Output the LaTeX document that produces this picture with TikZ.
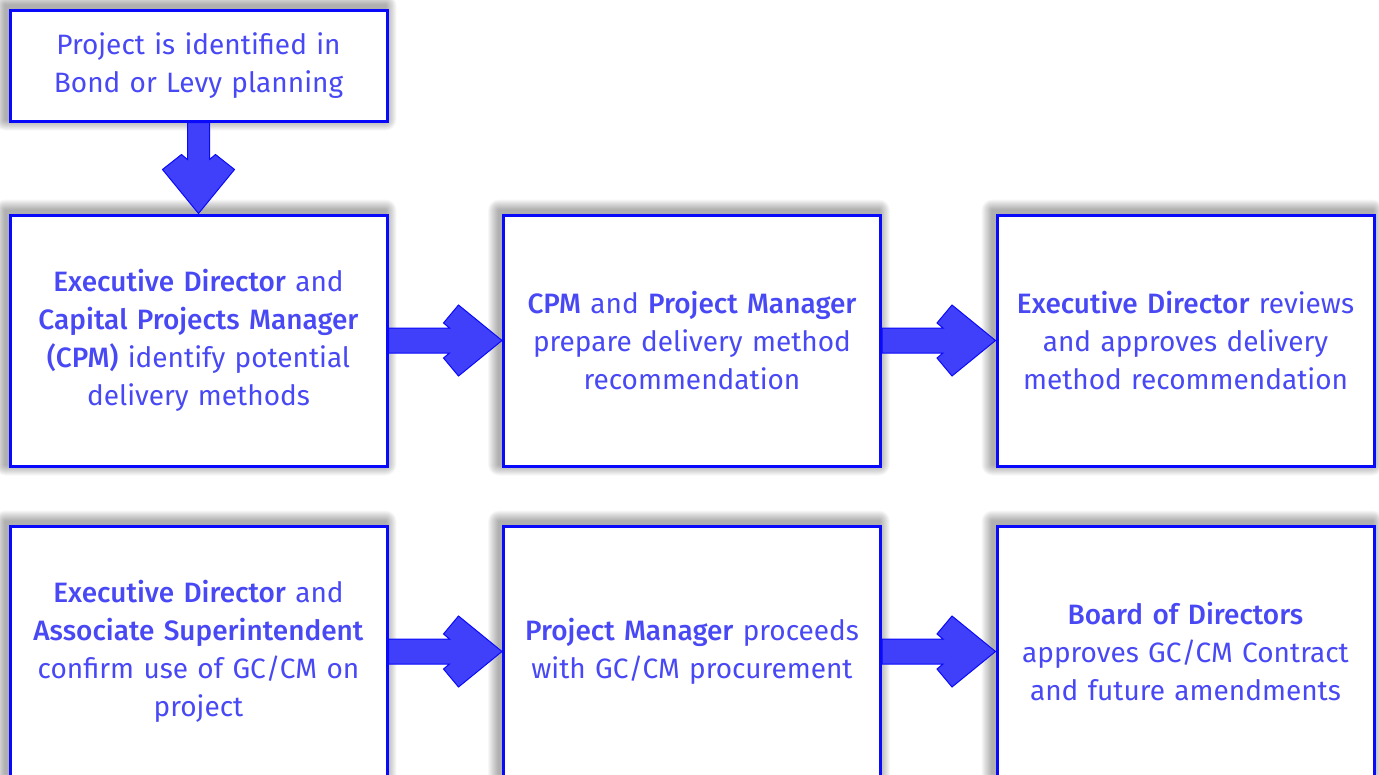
\documentclass[tikz,border=0pt]{standalone}
\usepackage{fontspec}
\setmainfont{Fira Sans}[BoldFont={Fira Sans Medium}]
\usetikzlibrary{calc,backgrounds}
\definecolor{boxblue}{RGB}{10,10,250}
\definecolor{textblue}{RGB}{72,72,245}
\definecolor{arrowfill}{RGB}{64,64,250}
\tikzset{
  stepbox/.style={draw=boxblue, line width=3pt, fill=white, rectangle,
    minimum width=377pt, minimum height=251pt, inner sep=0pt,
    text=textblue, align=center, text width=370pt,
    font=\fontsize{28}{38}\selectfont},
  shadowlayer/.style={fill=black, opacity=0.032, rounded corners=#1},
  flowarrow/.style={draw=boxblue, line width=1pt, fill=arrowfill, line join=miter}
}
\newcommand{\harrow}[2]{%
  \draw[flowarrow] ($(#1.east)+(0,-12.5)$) -- ($(#1.east)+(61,-12.5)$) -- ($(#1.east)+(55,-17.5)$)
    -- ($(#1.east)+(70,-35.5)$) -- (#2.west) -- ($(#1.east)+(70,35.5)$) -- ($(#1.east)+(55,17.5)$)
    -- ($(#1.east)+(61,12.5)$) -- ($(#1.east)+(0,12.5)$) -- cycle;}
\newcommand{\softshadow}[1]{%
  \foreach \k in {1,...,11}{%
    \fill[shadowlayer=\k pt] ($(#1.north west)+(-3-\k,-3-\k)$) rectangle ($(#1.south east)+(-3+\k,-3+\k)$);}}
\begin{document}
\begin{tikzpicture}[x=1pt,y=-1pt]
\useasboundingbox (0,0) rectangle (1379,774);
\begin{scope}
\clip (0,0) rectangle (1379,774);
\node[stepbox, minimum height=111pt] (a) at (198.5,65.5) {Project is identified in\\Bond or Levy planning};
\node[stepbox] (b) at (198.5,340.5) {\textbf{Executive Director} and\\\textbf{Capital Projects Manager}\\\textbf{(CPM)} identify potential\\delivery methods};
\node[stepbox] (c) at (692,340.5) {\textbf{CPM} and \textbf{Project Manager}\\prepare delivery method\\recommendation};
\node[stepbox] (d) at (1185.5,340.5) {\textbf{Executive Director} reviews\\and approves delivery\\method recommendation};
\node[stepbox] (e) at (198.5,651.5) {\textbf{Executive Director} and\\\textbf{Associate Superintendent}\\confirm use of GC/CM on\\project};
\node[stepbox] (f) at (692,651.5) {\textbf{Project Manager} proceeds\\with GC/CM procurement};
\node[stepbox] (g) at (1185.5,651.5) {\textbf{Board of Directors}\\approves GC/CM Contract\\and future amendments};
\begin{pgfonlayer}{background}
\fill[white] (0,0) rectangle (1379,774);
\softshadow{a}\softshadow{b}\softshadow{c}\softshadow{d}\softshadow{e}\softshadow{f}\softshadow{g}
\end{pgfonlayer}
\draw[flowarrow] ($(a.south)+(-11,0)$) -- ($(a.south)+(-11,37)$) -- ($(a.south)+(-17,32)$)
  -- ($(a.south)+(-36,47)$) -- (b.north) -- ($(a.south)+(36,47)$) -- ($(a.south)+(17,32)$)
  -- ($(a.south)+(11,37)$) -- ($(a.south)+(11,0)$) -- cycle;
\harrow{b}{c}
\harrow{c}{d}
\harrow{e}{f}
\harrow{f}{g}
\end{scope}
\end{tikzpicture}
\end{document}
